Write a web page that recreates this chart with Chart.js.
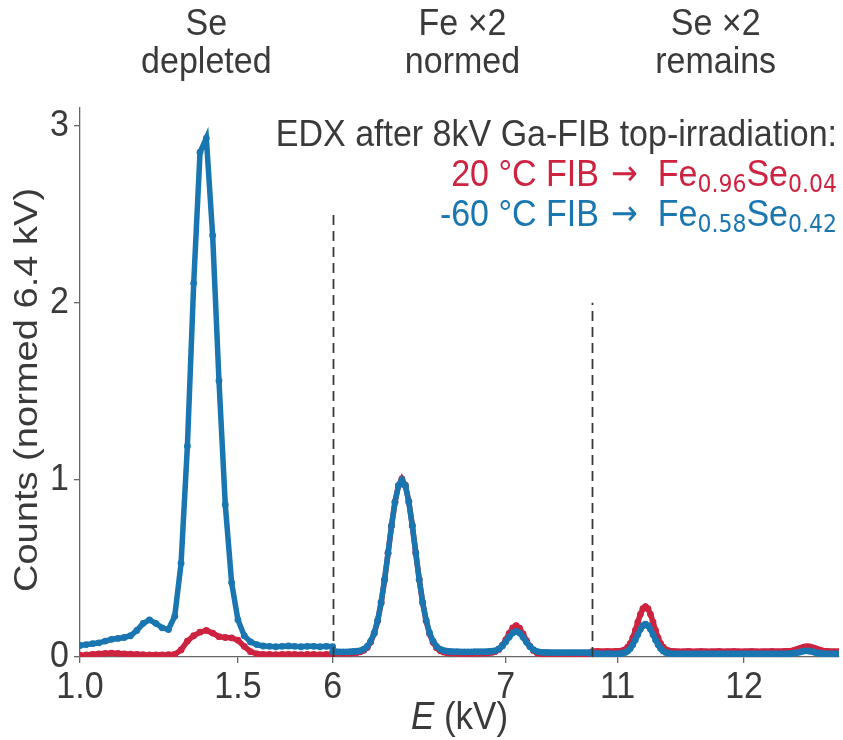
<!DOCTYPE html>
<html><head><meta charset="utf-8">
<script src="https://cdn.jsdelivr.net/npm/chart.js@4.4.1/dist/chart.umd.min.js"></script>
<style>html,body{margin:0;padding:0;background:#fff;overflow:hidden}canvas{display:block}</style>
</head><body>
<canvas id="c" width="843" height="740"></canvas>
<script>
// ---------- DATA ----------
// Se L region (kV)
const seLEnergy = [1.00,1.02,1.04,1.06,1.08,1.10,1.12,1.14,1.16,1.18,
  1.20,1.22,1.24,1.26,1.28,1.30,1.32,1.34,1.36,1.38,
  1.40,1.42,1.44,1.46,1.48,1.50,1.52,1.54,1.56,1.58,
  1.60,1.62,1.64,1.66,1.68,1.70,1.72,1.74,1.76,1.78,1.80];
const seLBlue = [0.065,0.070,0.075,0.080,0.090,0.100,0.105,0.110,0.120,0.150,
  0.190,0.210,0.190,0.165,0.155,0.230,0.530,1.190,2.110,2.850,
  2.930,2.380,1.560,0.860,0.420,0.210,0.120,0.085,0.070,0.062,
  0.060,0.058,0.060,0.062,0.060,0.058,0.060,0.060,0.058,0.060,0.058];
const seLRed = [0.010,0.012,0.015,0.018,0.020,0.022,0.020,0.018,0.016,0.015,
  0.013,0.012,0.012,0.012,0.013,0.015,0.040,0.090,0.120,0.140,
  0.150,0.135,0.115,0.110,0.108,0.095,0.060,0.030,0.018,0.015,
  0.014,0.013,0.014,0.015,0.014,0.013,0.014,0.014,0.013,0.014,0.013];
// Fe K region (kV)
const feKEnergy = [6.00,6.02,6.04,6.06,6.08,6.10,6.12,6.14,6.16,6.18,
  6.20,6.22,6.24,6.26,6.28,6.30,6.32,6.34,6.36,6.38,
  6.40,6.42,6.44,6.46,6.48,6.50,6.52,6.54,6.56,6.58,
  6.60,6.62,6.64,6.66,6.68,6.70,6.72,6.74,6.76,6.78,
  6.80,6.82,6.84,6.86,6.88,6.90,6.92,6.94,6.96,6.98,
  7.00,7.02,7.04,7.06,7.08,7.10,7.12,7.14,7.16,7.18,
  7.20,7.22,7.24,7.26,7.28,7.30,7.32,7.34,7.36,7.38,
  7.40,7.42,7.44,7.46,7.48,7.50];
const feKBlue = [0.030,0.030,0.029,0.029,0.029,0.030,0.031,0.033,0.036,0.045,
  0.060,0.090,0.136,0.207,0.309,0.438,0.588,0.741,0.875,0.967,
  1.000,0.967,0.875,0.741,0.588,0.438,0.309,0.207,0.136,0.090,
  0.060,0.045,0.037,0.033,0.031,0.030,0.030,0.029,0.029,0.029,
  0.029,0.030,0.030,0.030,0.030,0.031,0.033,0.036,0.046,0.062,
  0.086,0.113,0.136,0.145,0.135,0.111,0.083,0.058,0.041,0.032,
  0.028,0.026,0.026,0.025,0.025,0.025,0.025,0.025,0.025,0.025,
  0.025,0.025,0.025,0.025,0.025,0.025];
const feKRed = [0.022,0.022,0.021,0.021,0.021,0.022,0.023,0.025,0.029,0.038,
  0.054,0.085,0.132,0.203,0.305,0.435,0.586,0.740,0.875,0.968,
  1.005,0.970,0.878,0.743,0.589,0.437,0.306,0.203,0.131,0.083,
  0.052,0.036,0.028,0.024,0.022,0.021,0.021,0.020,0.020,0.020,
  0.020,0.021,0.021,0.021,0.022,0.024,0.026,0.031,0.043,0.065,
  0.097,0.133,0.164,0.177,0.163,0.130,0.092,0.060,0.037,0.024,
  0.018,0.016,0.015,0.015,0.015,0.014,0.014,0.014,0.015,0.015,
  0.014,0.014,0.014,0.015,0.014,0.014];
// Se K region (kV)
const seKEnergy = [10.80,10.82,10.84,10.86,10.88,10.90,10.92,10.94,10.96,10.98,
  11.00,11.02,11.04,11.06,11.08,11.10,11.12,11.14,11.16,11.18,
  11.20,11.22,11.24,11.26,11.28,11.30,11.32,11.34,11.36,11.38,
  11.40,11.42,11.44,11.46,11.48,11.50,11.52,11.54,11.56,11.58,
  11.60,11.62,11.64,11.66,11.68,11.70,11.72,11.74,11.76,11.78,
  11.80,11.82,11.84,11.86,11.88,11.90,11.92,11.94,11.96,11.98,
  12.00,12.02,12.04,12.06,12.08,12.10,12.12,12.14,12.16,12.18,
  12.20,12.22,12.24,12.26,12.28,12.30,12.32,12.34,12.36,12.38,
  12.40,12.42,12.44,12.46,12.48,12.50,12.52,12.54,12.56,12.58,
  12.60,12.62,12.64,12.66,12.68,12.70,12.72,12.74,12.76];
const seKBlue = [0.018,0.018,0.019,0.018,0.018,0.018,0.019,0.018,0.018,0.018,
  0.018,0.019,0.022,0.026,0.034,0.048,0.069,0.096,0.127,0.156,
  0.177,0.185,0.177,0.156,0.127,0.096,0.069,0.048,0.034,0.026,
  0.022,0.019,0.018,0.018,0.017,0.018,0.018,0.018,0.017,0.018,
  0.018,0.018,0.018,0.017,0.018,0.018,0.018,0.018,0.017,0.018,
  0.018,0.018,0.018,0.018,0.017,0.018,0.018,0.018,0.018,0.017,
  0.018,0.018,0.018,0.018,0.018,0.017,0.018,0.018,0.018,0.018,
  0.017,0.018,0.018,0.018,0.018,0.018,0.018,0.018,0.019,0.020,
  0.022,0.025,0.028,0.032,0.035,0.035,0.033,0.030,0.026,0.023,
  0.021,0.019,0.018,0.018,0.018,0.018,0.018,0.018,0.018];
const seKRed = [0.030,0.030,0.031,0.030,0.030,0.030,0.031,0.030,0.030,0.031,
  0.031,0.032,0.036,0.042,0.055,0.076,0.108,0.150,0.197,0.241,
  0.273,0.285,0.273,0.241,0.197,0.150,0.108,0.076,0.055,0.042,
  0.036,0.032,0.031,0.030,0.030,0.029,0.030,0.030,0.031,0.030,
  0.029,0.030,0.030,0.031,0.030,0.030,0.029,0.030,0.030,0.030,
  0.031,0.030,0.029,0.030,0.030,0.030,0.031,0.030,0.030,0.029,
  0.030,0.030,0.030,0.031,0.030,0.030,0.029,0.030,0.030,0.030,
  0.030,0.031,0.030,0.030,0.030,0.030,0.031,0.031,0.032,0.035,
  0.039,0.043,0.048,0.053,0.057,0.058,0.057,0.053,0.048,0.043,
  0.039,0.035,0.032,0.031,0.030,0.030,0.030,0.030,0.030];

const xTickValues = [1.0, 1.5, 6, 7, 11, 12];
const xTickLabels = ['1.0', '1.5', '6', '7', '11', '12'];
const yTickValues = [0, 1, 2, 3];
const yTickLabels = ['0', '1', '2', '3'];
const segLo = [1.0, 6.0, 10.8];
const segHi = [1.8, 7.5, 12.75];
const breakLineTops = [2.5, 2.0];
const segLabels = [['Se', 'depleted'], ['Fe \u00d72', 'normed'], ['Se \u00d72', 'remains']];

// ---------- LAYOUT / STYLE ----------
const segWidth = [254, 261, 248];
const BLUE = '#1a76b1', RED = '#cd2340', TXT = '#3a3a3a', AX = '#666666';
const FONT = "'Liberation Sans', Arial, sans-serif";
const SY = 1.1; // vertical stretch of the lettering

function axisPos(E) {
  let off = 0;
  for (let s = 0; s < 3; s++) {
    if (s === 2 || E <= segHi[s] + 1e-9) return off + (E - segLo[s]) / (segHi[s] - segLo[s]) * segWidth[s];
    off += segWidth[s];
  }
}
const axisTotal = segWidth.reduce((a, b) => a + b, 0);
function pts(E, V) { return E.map((e, i) => ({ x: axisPos(e), y: V[i] })); }
function style(c) {
  return { borderColor: c, backgroundColor: c, pointBackgroundColor: c, pointBorderColor: c,
    borderWidth: 5.5, pointRadius: 3.4, pointBorderWidth: 0, tension: 0, fill: false };
}
function stretchText(ctx, text, x, y, font, align, baseline) {
  ctx.save();
  ctx.translate(x, y); ctx.scale(1, SY);
  ctx.font = font; ctx.textAlign = align; ctx.textBaseline = baseline || 'middle';
  ctx.fillText(text, 0, 0);
  ctx.restore();
}

const overlay = {
  id: 'overlay',
  afterDatasetsDraw(chart) {
    const ctx = chart.ctx, xs = chart.scales.x, ys = chart.scales.y, ca = chart.chartArea;
    ctx.save();
    // dashed break lines
    ctx.strokeStyle = '#383838'; ctx.lineWidth = 1.8; ctx.setLineDash([10, 6]);
    let off = 0;
    for (let i = 0; i < 2; i++) {
      off += segWidth[i];
      const px = Math.round(xs.getPixelForValue(off)) + 0.5;
      ctx.beginPath(); ctx.moveTo(px, ys.getPixelForValue(0)); ctx.lineTo(px, ys.getPixelForValue(breakLineTops[i])); ctx.stroke();
    }
    ctx.setLineDash([]);
    ctx.fillStyle = TXT;
    // tick labels
    const tickF = '34px ' + FONT;
    xs.ticks.forEach((t, i) => stretchText(ctx, xTickLabels[i], xs.getPixelForValue(t.value), 688, tickF, 'center'));
    yTickValues.forEach((v, i) => stretchText(ctx, yTickLabels[i], ca.left - 11, ys.getPixelForValue(v), tickF, 'right'));
    // segment labels on top
    off = 0;
    for (let i = 0; i < 3; i++) {
      const cx = xs.getPixelForValue(off + segWidth[i] / 2);
      stretchText(ctx, segLabels[i][0], cx, 25, '34px ' + FONT, 'center');
      stretchText(ctx, segLabels[i][1], cx, 63, '34px ' + FONT, 'center');
      off += segWidth[i];
    }
    // legend block  [text, font index, extra space before, extra space after]
    const right = ca.right - 2;
    const lines = [
      { y: 146, c: TXT, parts: [['EDX after 8kV Ga-FIB top-irradiation:', 0, 0, 0]] },
      { y: 186, c: RED, parts: [['20 \u00b0C FIB', 0, 0, 0], ['\u2192', 2, 12, 20], ['Fe', 0, 0, 0], ['0.96', 1, 0, 0], ['Se', 0, 0, 0], ['0.04', 1, 0, 0]] },
      { y: 226, c: BLUE, parts: [['-60 \u00b0C FIB', 0, 0, 0], ['\u2192', 2, 12, 20], ['Fe', 0, 0, 0], ['0.58', 1, 0, 0], ['Se', 0, 0, 0], ['0.42', 1, 0, 0]] }
    ];
    const fonts = ['34px ' + FONT, "22px 'DejaVu Sans', sans-serif", "32px 'DejaVu Sans', sans-serif"];
    for (const ln of lines) {
      let w = 0;
      for (const p of ln.parts) { ctx.font = fonts[p[1]]; w += p[2] + ctx.measureText(p[0]).width + p[3]; }
      let x = right - w;
      ctx.fillStyle = ln.c;
      ctx.save();
      ctx.translate(0, ln.y); ctx.scale(1, SY);
      ctx.textAlign = 'left'; ctx.textBaseline = 'alphabetic';
      for (const p of ln.parts) {
        ctx.font = fonts[p[1]];
        x += p[2];
        ctx.fillText(p[0], x, p[1] === 1 ? 5 : (p[1] === 2 ? -1 : 0));
        x += ctx.measureText(p[0]).width + p[3];
      }
      ctx.restore();
    }
    // x title: E (kV)
    ctx.fillStyle = TXT;
    const cxT = (ca.left + ca.right) / 2;
    ctx.font = 'italic 35px ' + FONT; const wE = ctx.measureText('E').width;
    ctx.font = '35px ' + FONT; const wR = ctx.measureText(' (kV)').width;
    const sx = cxT - (wE + wR) / 2;
    stretchText(ctx, 'E', sx, 718, 'italic 35px ' + FONT, 'left');
    stretchText(ctx, ' (kV)', sx + wE, 718, '35px ' + FONT, 'left');
    // y title (rotated, stretched along its length)
    ctx.save();
    ctx.translate(28, 390);
    ctx.rotate(-Math.PI / 2);
    ctx.scale(SY + 0.02, 1);
    ctx.font = '34px ' + FONT; ctx.textAlign = 'center'; ctx.textBaseline = 'middle';
    ctx.fillText('Counts (normed 6.4 kV)', 0, 0);
    ctx.restore();
    ctx.restore();
  }
};

new Chart(document.getElementById('c'), {
  type: 'line',
  data: {
    datasets: [
      Object.assign({ label: '-60 \u00b0C FIB', data: pts(seLEnergy, seLBlue) }, style(BLUE)),
      Object.assign({ label: '-60 \u00b0C FIB', data: pts(feKEnergy, feKBlue) }, style(BLUE)),
      Object.assign({ label: '-60 \u00b0C FIB', data: pts(seKEnergy, seKBlue) }, style(BLUE)),
      Object.assign({ label: '20 \u00b0C FIB', data: pts(seLEnergy, seLRed) }, style(RED)),
      Object.assign({ label: '20 \u00b0C FIB', data: pts(feKEnergy, feKRed) }, style(RED)),
      Object.assign({ label: '20 \u00b0C FIB', data: pts(seKEnergy, seKRed) }, style(RED))
    ]
  },
  options: {
    responsive: false, animation: false, devicePixelRatio: 1,
    layout: { padding: { top: 108, right: 0, left: 0, bottom: 0 } },
    plugins: { legend: { display: false }, tooltip: { enabled: false } },
    scales: {
      x: {
        type: 'linear', min: 0, max: axisTotal,
        afterBuildTicks: (sc) => { sc.ticks = xTickValues.map(v => ({ value: axisPos(v) })); },
        afterFit: (sc) => { sc.height = 83; },
        ticks: { display: false, callback: (v, i) => xTickLabels[i], autoSkip: false, maxRotation: 0 },
        grid: { drawOnChartArea: false, tickLength: 6, color: AX, lineWidth: 1.3 },
        border: { color: AX, width: 1.3 }
      },
      y: {
        min: 0, max: 3.1,
        afterBuildTicks: (sc) => { sc.ticks = yTickValues.map(v => ({ value: v })); },
        afterFit: (sc) => { sc.width = 80; },
        ticks: { display: false },
        grid: { drawOnChartArea: false, tickLength: 6, color: AX, lineWidth: 1.3 },
        border: { color: AX, width: 1.3 }
      }
    }
  },
  plugins: [overlay]
});
</script>
</body></html>
